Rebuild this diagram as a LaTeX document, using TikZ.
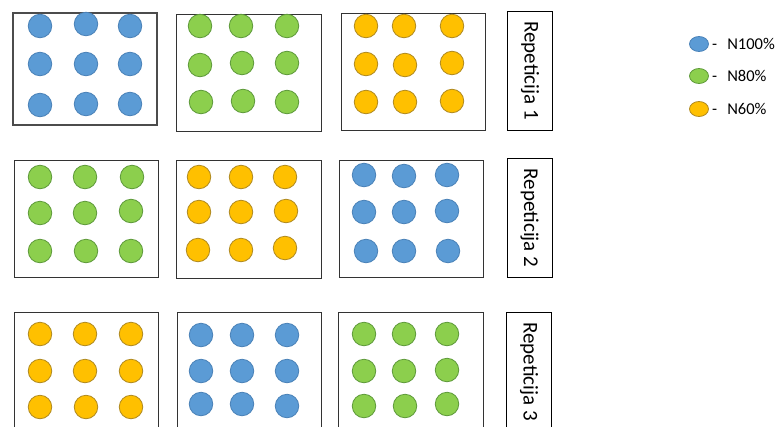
\documentclass[tikz,border=0pt]{standalone}
\usepackage{fontspec}
\usetikzlibrary{shapes.geometric}
\setmainfont{Carlito}
\definecolor{cblue}{HTML}{5B9BD5}
\definecolor{cbluel}{HTML}{4A82B8}
\definecolor{cgreen}{HTML}{8CCF4D}
\definecolor{cgreenl}{HTML}{5E9A3A}
\definecolor{cyel}{HTML}{FFC000}
\definecolor{cyell}{HTML}{B08A20}
\begin{document}
\begin{tikzpicture}[x=1pt,y=-1pt,
  plot/.style={draw=black!80,line width=1pt},
  repbox/.style={draw=black,line width=0.9pt,rotate=-90,minimum width=119pt,minimum height=45pt,inner sep=0pt,font=\fontsize{21}{24}\selectfont},
  dotb/.style={circle,draw=cbluel,fill=cblue,line width=0.8pt,minimum size=23.5pt,inner sep=0pt},
  dotg/.style={circle,draw=cgreenl,fill=cgreen,line width=0.8pt,minimum size=23.5pt,inner sep=0pt},
  doty/.style={circle,draw=cyell,fill=cyel,line width=0.8pt,minimum size=23.5pt,inner sep=0pt},
  legdot/.style={ellipse,minimum width=19pt,minimum height=15pt,inner sep=0pt,line width=0.8pt},
  legtext/.style={anchor=west,inner sep=0pt,font=\fontsize{16.5}{19}\selectfont}]
\useasboundingbox (0,0) rectangle (779,426);
\clip (0,0) rectangle (779,426);
% ---------- Row 1 ----------
\node[plot,draw=black!70,line width=1.5pt,minimum width=144pt,minimum height=112pt,inner sep=0pt] (p11) at (85,69) {};
\node[plot,minimum width=145pt,minimum height=117pt,inner sep=0pt] (p12) at (248.5,72.5) {};
\node[plot,minimum width=144pt,minimum height=117pt,inner sep=0pt] (p13) at (413,71.5) {};
\node[repbox] (rep1) at (530,70.5) {\raisebox{1pt}{Repeticija 1}};
\foreach \x/\y [count=\i] in {40/26,86/24,130/26,40/64,86/64,130/64,40/105,86/104,130/104}
  \node[dotb] (a\i) at (\x,\y) {};
\foreach \x/\y [count=\i] in {200/26,241/26,287/26,200/65,242/63,287/63,201/102,243/101,287/102}
  \node[dotg] (b\i) at (\x,\y) {};
\foreach \x/\y [count=\i] in {366/26,404/26,452/26,366/64,405/65,452/63,366/102,405/102,452/101}
  \node[doty] (c\i) at (\x,\y) {};
% ---------- Row 2 ----------
\node[plot,minimum width=144pt,minimum height=117pt,inner sep=0pt] (p21) at (86,218.5) {};
\node[plot,minimum width=145pt,minimum height=118pt,inner sep=0pt] (p22) at (248.5,219) {};
\node[plot,minimum width=144pt,minimum height=117pt,inner sep=0pt] (p23) at (411,218.5) {};
\node[repbox] (rep2) at (529.5,218) {\raisebox{1pt}{Repeticija 2}};
\foreach \x/\y [count=\i] in {40/177,85/177,132/177,40/213,85/213,131/211,40/251,86/251,131/251}
  \node[dotg] (d\i) at (\x,\y) {};
\foreach \x/\y [count=\i] in {199/177,241/177,285/177,199/212,241/212,286/211,198/250,241/250,285/248}
  \node[doty] (e\i) at (\x,\y) {};
\foreach \x/\y [count=\i] in {364/175,404/176,447/175,364/212,404/212,447/211,366/251,404/251,448/251}
  \node[dotb] (f\i) at (\x,\y) {};
% ---------- Row 3 ----------
\node[plot,minimum width=144pt,minimum height=119pt,inner sep=0pt] (p31) at (86,371.5) {};
\node[plot,minimum width=144pt,minimum height=119pt,inner sep=0pt] (p32) at (249,371.5) {};
\node[plot,minimum width=145pt,minimum height=119pt,inner sep=0pt] (p33) at (410.5,371.5) {};
\node[repbox] (rep3) at (529,371.5) {\raisebox{1pt}{Repeticija 3}};
\foreach \x/\y [count=\i] in {40/334,85/334,131/334,40/371,85/371,131/371,40/407,86/407,131/407}
  \node[doty] (g\i) at (\x,\y) {};
\foreach \x/\y [count=\i] in {201/335,242/335,287/335,201/371,242/371,287/371,201/404,242/404,287/406}
  \node[dotb] (h\i) at (\x,\y) {};
\foreach \x/\y [count=\i] in {364/334,404/334,447/334,364/371,404/371,447/370,364/406,405/406,447/404}
  \node[dotg] (k\i) at (\x,\y) {};
% ---------- Legend ----------
\node[legdot,draw=cbluel,fill=cblue] (l1) at (699,44) {};
\node[legtext] (t1) at (712,44) {-\hspace{10pt}N100\%};
\node[legdot,draw=cgreenl,fill=cgreen] (l2) at (699,76) {};
\node[legtext] (t2) at (712,76) {-\hspace{10pt}N80\%};
\node[legdot,draw=cyell,fill=cyel] (l3) at (699,109) {};
\node[legtext] (t3) at (712,109) {-\hspace{10pt}N60\%};
\end{tikzpicture}
\end{document}
